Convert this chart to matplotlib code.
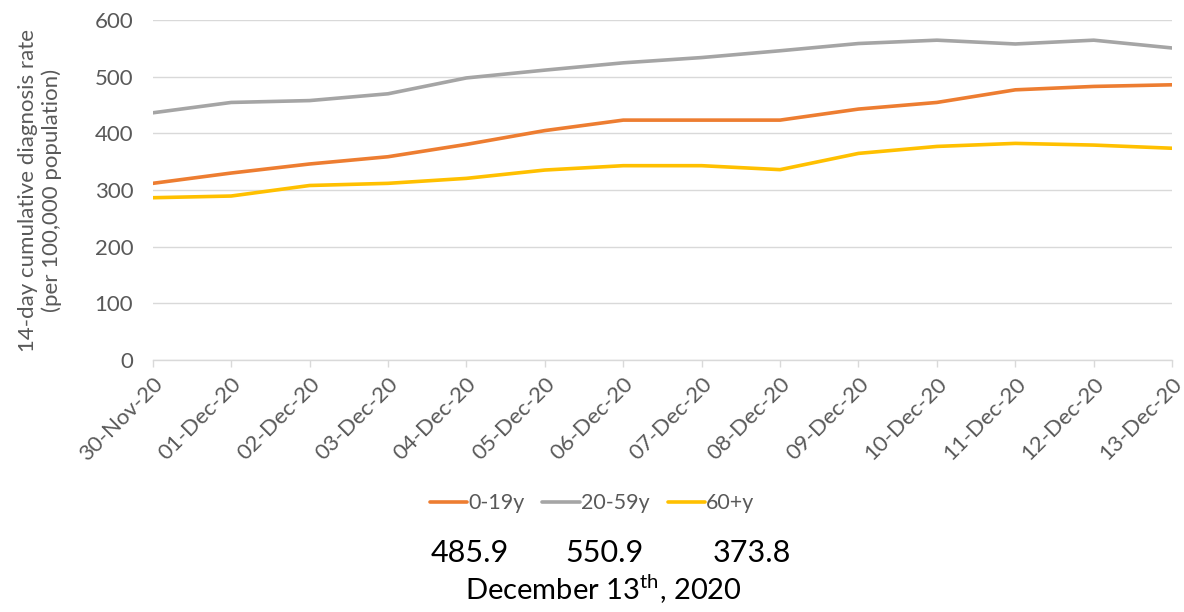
import matplotlib
matplotlib.use('Agg')
import matplotlib.pyplot as plt

plt.rcParams['font.family'] = ['Lato', 'DejaVu Sans']

# 日期标签
dates = ['30-Nov-20', '01-Dec-20', '02-Dec-20', '03-Dec-20', '04-Dec-20',
         '05-Dec-20', '06-Dec-20', '07-Dec-20', '08-Dec-20', '09-Dec-20',
         '10-Dec-20', '11-Dec-20', '12-Dec-20', '13-Dec-20']

# 各年龄组数据
age_0_19 = [311.8, 330, 346, 358.8, 380.6, 405, 423.5, 423.5, 423.5, 443,
            454.7, 477, 483, 485.9]
age_20_59 = [436.4, 454.7, 458, 470, 498, 511.8, 524.7, 534, 546, 558.8,
             564.7, 558, 564.7, 550.9]
age_60_plus = [286.4, 289.4, 308, 311.8, 320.6, 335.3, 343, 343, 336, 364.7,
               377, 382.4, 379.4, 373.8]

series_names = ['0-19y', '20-59y', '60+y']
series_colors = ['#ED7D31', '#A5A5A5', '#FFC000']
yticks = [0, 100, 200, 300, 400, 500, 600]

fig = plt.figure(figsize=(11.84, 6.12), dpi=100)
ax = fig.add_axes([0.129, 0.412, 0.861, 0.555])

x = list(range(len(dates)))
for vals, name, col in zip([age_0_19, age_20_59, age_60_plus], series_names, series_colors):
    ax.plot(x, vals, color=col, linewidth=2.6, label=name, solid_capstyle='round')

ax.set_xlim(0, len(dates) - 1)
ax.set_ylim(0, 600)
ax.set_yticks(yticks)
ax.grid(axis='y', color='#d9d9d9', linewidth=1)
ax.set_axisbelow(True)
for s in ['top', 'right', 'left']:
    ax.spines[s].set_visible(False)
ax.spines['bottom'].set_color('#d9d9d9')
ax.spines['bottom'].set_linewidth(1)

ax.set_xticks(x)
ax.set_xticklabels(dates, rotation=45, ha='right', rotation_mode='anchor')
ax.tick_params(axis='x', colors='#595959', labelsize=16, length=5, width=1, pad=5)
ax.tick_params(axis='x', which='both', color='#d9d9d9')
ax.tick_params(axis='y', colors='#595959', labelsize=16, length=0, pad=14)

ax.set_ylabel('14-day cumulative diagnosis rate\n(per 100,000 population)',
              fontsize=16, color='#595959', linespacing=1.2)
ax.yaxis.set_label_coords(-0.089, 0.5)

# 图例
fig.legend(loc='center', bbox_to_anchor=(0.5, 1 - 503 / 612), ncol=3, frameon=False,
           fontsize=15.4, labelcolor='#595959', handlelength=1.75, handletextpad=0.05,
           columnspacing=0.85)

# 最新值注释
fig.text(470 / 1184, 1 - 553 / 612, '485.9', fontsize=22, ha='center', va='center')
fig.text(604 / 1184, 1 - 553 / 612, '550.9', fontsize=22, ha='center', va='center')
fig.text(752 / 1184, 1 - 553 / 612, '373.8', fontsize=22, ha='center', va='center')
fig.text(603 / 1184, 1 - 589 / 612, 'December 13$^{\\mathregular{th}}$, 2020', fontsize=21,
         ha='center', va='center')

fig.savefig('out.png', dpi=100)
